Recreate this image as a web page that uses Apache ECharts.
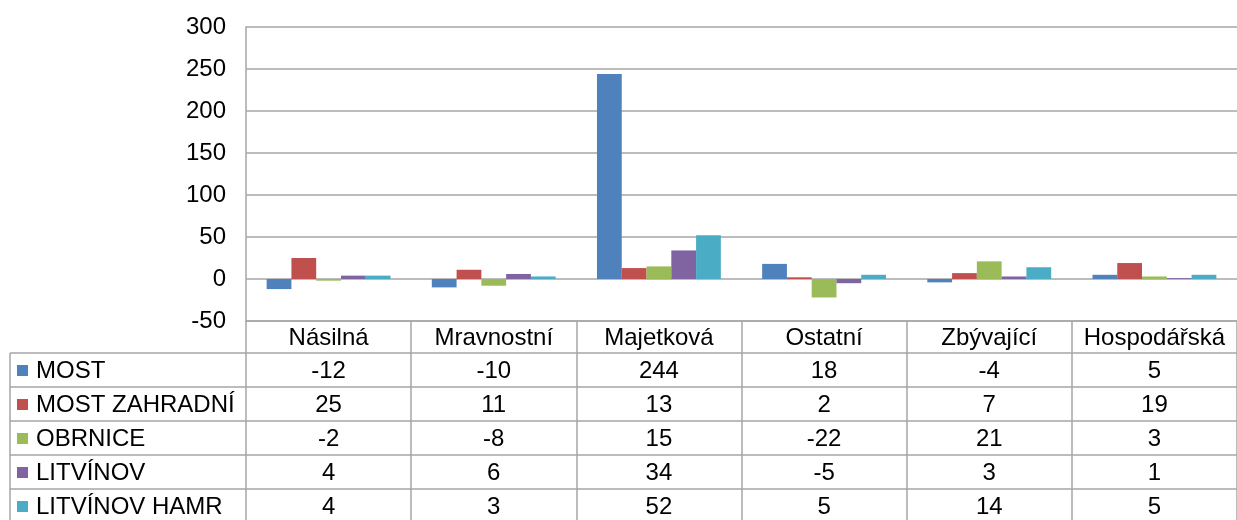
<!DOCTYPE html>
<html>
<head>
<meta charset="utf-8">
<script src="https://cdn.jsdelivr.net/npm/echarts@6/dist/echarts.min.js"></script>
<style>
  html, body { margin: 0; padding: 0; background: #fff; }
  #chart { width: 1237px; height: 520px; }
</style>
</head>
<body>
<div id="chart"></div>
<script>
/* data */
const categories = ['Násilná', 'Mravnostní', 'Majetková', 'Ostatní', 'Zbývající', 'Hospodářská']
const seriesNames = ['MOST', 'MOST ZAHRADNÍ', 'OBRNICE', 'LITVÍNOV', 'LITVÍNOV HAMR']
const most = [-12, -10, 244, 18, -4, 5]
const mostZahradni = [25, 11, 13, 2, 7, 19]
const obrnice = [-2, -8, 15, -22, 21, 3]
const litvinov = [4, 6, 34, -5, 3, 1]
const litvinovHamr = [4, 3, 52, 5, 14, 5]
const yMin = -50
const yMax = 300
const yStep = 50

const values = [most, mostZahradni, obrnice, litvinov, litvinovHamr]
const colors = ['#4F81BD', '#C0504D', '#9BBB59', '#8064A2', '#4BACC6']
const gridColor = '#a6a6a6'
const font = '"Liberation Sans", Arial, sans-serif'
const fs = 24

var myChart = echarts.init(document.getElementById('chart'))

const option = {
  animation: false,
  grid: {
    left: 246,
    top: 27,
    width: 1002,
    height: 294,
  },
  xAxis: {
    type: 'category',
    data: categories,
    position: 'bottom',
    axisLine: { onZero: false, lineStyle: { color: gridColor, width: 1.5 } },
    axisTick: { show: true, interval: 0, length: 200, lineStyle: { color: gridColor, width: 1.5 } },
    axisLabel: { interval: 0, fontSize: fs, color: '#000', fontFamily: font, margin: 5 },
  },
  yAxis: {
    type: 'value',
    min: yMin,
    max: yMax,
    interval: yStep,
    axisLine: { show: true, lineStyle: { color: gridColor, width: 1.5 } },
    axisTick: { show: false },
    splitLine: { lineStyle: { color: gridColor, width: 1.5 } },
    axisLabel: { fontSize: fs, color: '#000', fontFamily: font, margin: 20 },
  },
  series: seriesNames.map((name, i) => ({
    name: name,
    type: 'bar',
    data: values[i],
    barGap: '0%',
    barCategoryGap: '25%',
    itemStyle: { color: colors[i] },
  })),
}
myChart.setOption(option)

/* datová tabulka pod grafem */
const rowTop = 353
const rowH = 34
const graphic = []
for (let r = 0; r < seriesNames.length; r++) {
  const y = rowTop + r * rowH
  graphic.push({
    type: 'line',
    shape: { x1: 10, y1: y, x2: 1237, y2: y },
    style: { stroke: gridColor, lineWidth: 1.5 },
  })
  graphic.push({
    type: 'rect',
    shape: { x: 17, y: y + rowH / 2 - 5, width: 11, height: 11 },
    style: { fill: colors[r] },
  })
  graphic.push({
    type: 'text',
    x: 36,
    y: y + rowH / 2 + 1,
    style: { text: seriesNames[r], fontSize: fs, fontFamily: font, fill: '#000', verticalAlign: 'middle' },
  })
  categories.forEach((c, j) => {
    const px = myChart.convertToPixel({ xAxisIndex: 0 }, c)
    graphic.push({
      type: 'text',
      x: px,
      y: y + rowH / 2 + 1,
      style: { text: String(values[r][j]), fontSize: fs, fontFamily: font, fill: '#000', align: 'center', verticalAlign: 'middle' },
    })
  })
}
graphic.push({
  type: 'line',
  shape: { x1: 10, y1: rowTop, x2: 10, y2: 520 },
  style: { stroke: gridColor, lineWidth: 1.5 },
})
myChart.setOption({ graphic: graphic })
</script>
</body>
</html>
